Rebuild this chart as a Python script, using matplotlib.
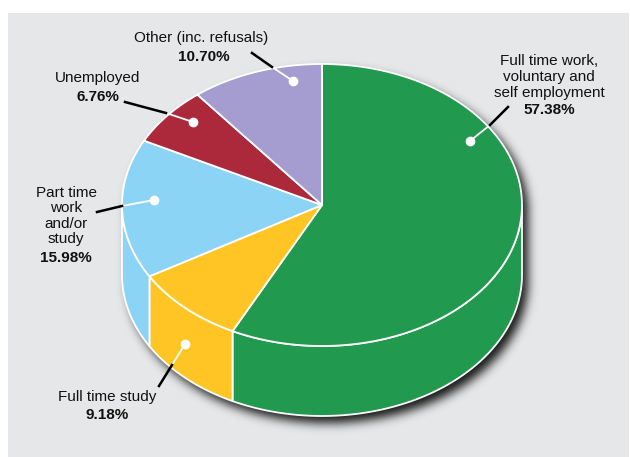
import numpy as np
import matplotlib.pyplot as plt
from matplotlib.patches import Polygon, Rectangle

plt.rcParams['font.family'] = ['Liberation Sans', 'DejaVu Sans']

# slices, clockwise from 12 o'clock
names = ["Full time work,\nvoluntary and\nself employment", "Full time study",
         "Part time\nwork\nand/or\nstudy", "Unemployed", "Other (inc. refusals)"]
shares = [57.38, 9.18, 15.98, 6.76, 10.70]
colors = ["#219a4f", "#fec524", "#8cd4f5", "#ac283b", "#a59dcf"]

# label layout: name centre, percent centre, dot / elbow / end of the leader line
name_xy = [(549, 77), (107, 397), (66, 216), (98, 78), (201, 38)]
pct_xy = [(549, 110), (107, 415), (66, 258), (98, 97), (204, 57)]
leaders = [[(470, 141), (490, 125), (508, 107)],
           [(185, 344), (172, 365), (159, 386)],
           [(154, 200), (122, 206), (97, 212)],
           [(193, 122), (166, 113), (125, 102)],
           [(293, 81), (272, 67), (252, 53)]]

W, H = 630, 457
cx, cy, rx, ry, depth = 322, 205, 200, 141, 70
bg = "#e6e7e8"

fig = plt.figure(figsize=(W / 100, H / 100), dpi=100)
fig.patch.set_facecolor("white")
ax = fig.add_axes([0, 0, 1, 1])
ax.set_xlim(0, W)
ax.set_ylim(H, 0)
ax.axis("off")

ax.add_patch(Rectangle((8, 13), 621, 444, facecolor=bg, edgecolor="none", zorder=0))


def arc(a0, a1, dy=0, n=120):
    t = np.radians(np.linspace(a0, a1, n))
    return np.column_stack([cx + rx * np.cos(t), cy - ry * np.sin(t) + dy])


# soft drop shadow under the cylinder
xs, ys = np.meshgrid(np.arange(W) + 0.5, np.arange(H) + 0.5)
sx, sy = 6, 7
u = (xs - cx - sx) / rx
mask = ((u ** 2 + ((ys - cy - sy) / ry) ** 2 <= 1)
        | (u ** 2 + ((ys - cy - sy - depth) / ry) ** 2 <= 1)
        | ((np.abs(u) <= 1) & (ys >= cy + sy) & (ys <= cy + sy + depth))).astype(float)
k = np.exp(-0.5 * (np.arange(-15, 16) / 5.0) ** 2)
k /= k.sum()
blur = np.apply_along_axis(lambda r: np.convolve(r, k, mode="same"), 1, mask)
blur = np.apply_along_axis(lambda c: np.convolve(c, k, mode="same"), 0, blur)
shadow = np.zeros((H, W, 4))
shadow[..., 3] = blur * 0.9
ax.imshow(shadow, extent=(0, W, H, 0), zorder=1, interpolation="bilinear")

bounds = 90 - 360 * np.concatenate([[0], np.cumsum(shares)]) / 100.0

# front side walls
for i, c in enumerate(colors):
    hi, lo = bounds[i], bounds[i + 1]
    a, b = max(lo, -180), min(hi, 0)
    if a < b:
        pts = np.vstack([arc(a, b), arc(b, a, dy=depth)])
        ax.add_patch(Polygon(pts, closed=True, facecolor=c, edgecolor="white",
                             lw=1.3, joinstyle="round", zorder=2))

# top faces
for i, c in enumerate(colors):
    pts = np.vstack([[cx, cy], arc(bounds[i], bounds[i + 1])])
    ax.add_patch(Polygon(pts, closed=True, facecolor=c, edgecolor="white",
                         lw=1.3, joinstyle="round", zorder=3))

# leader lines and labels
for i in range(len(names)):
    dot, elbow, end = leaders[i]
    ax.plot([dot[0], elbow[0]], [dot[1], elbow[1]], color="white", lw=1.3, zorder=4,
            solid_capstyle="round")
    ax.plot([elbow[0], end[0]], [elbow[1], end[1]], color="black", lw=1.8, zorder=4)
    ax.plot(*dot, "o", ms=6, color="white", zorder=5)
    ax.text(*name_xy[i], names[i], ha="center", va="center", fontsize=11,
            linespacing=1.14, color="#111111", zorder=6)
    ax.text(*pct_xy[i], f"{shares[i]:.2f}%", ha="center", va="center", fontsize=11,
            fontweight="bold", color="#111111", zorder=6)

fig.savefig("out.png", dpi=100, facecolor=fig.get_facecolor())
